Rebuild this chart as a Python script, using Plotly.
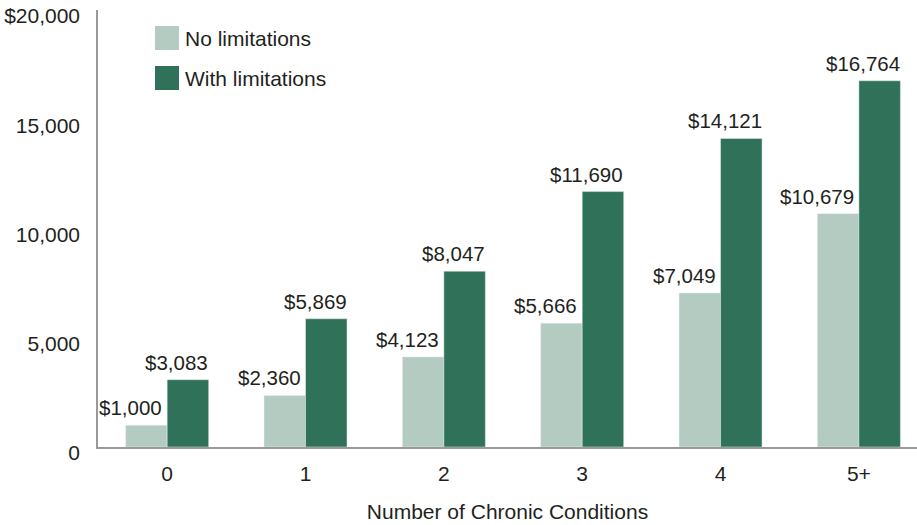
import plotly.graph_objects as go

categories = ['0', '1', '2', '3', '4', '5+']
no_limitations = [1000, 2360, 4123, 5666, 7049, 10679]
with_limitations = [3083, 5869, 8047, 11690, 14121, 16764]
y_ticks = [0, 5000, 10000, 15000, 20000]
y_tick_labels = ['0', '5,000', '10,000', '15,000', '$20,000']

light = '#b3cbc0'
dark = '#2f7259'
text_color = '#231f20'
font = 'Helvetica Neue, Arial, Liberation Sans, sans-serif'

fig = go.Figure()
fig.add_trace(go.Bar(x=categories, y=no_limitations, name='No limitations',
                     marker_color=light, showlegend=False))
fig.add_trace(go.Bar(x=categories, y=with_limitations, name='With limitations',
                     marker_color=dark, showlegend=False))

# value labels above bars
for cat, v in zip(categories, no_limitations):
    fig.add_annotation(x=cat, y=v, text='${:,}'.format(v), showarrow=False,
                       xanchor='right', yanchor='bottom', xshift=-3, yshift=4,
                       font_size=20.5)
for cat, v in zip(categories, with_limitations):
    fig.add_annotation(x=cat, y=v, text='${:,}'.format(v), showarrow=False,
                       xanchor='right', yanchor='bottom', xshift=43, yshift=4,
                       font_size=20.5)

# legend drawn by hand so the swatches can be large squares
legend_items = [('No limitations', light, 0), ('With limitations', dark, 1)]
for label, color, i in legend_items:
    top = 26 + 40 * i
    fig.add_shape(type='rect', xref='paper', yref='paper',
                  x0=(155 - 98) / 819, x1=(179 - 98) / 819,
                  y0=(447 - top - 24) / 437, y1=(447 - top) / 437,
                  fillcolor=color, line_width=0)
    fig.add_annotation(xref='paper', yref='paper', x=(183 - 98) / 819,
                       y=(447 - top - 12) / 437, text=label, showarrow=False,
                       xanchor='left', yanchor='middle')

fig.update_layout(
    width=917, height=525,
    margin=dict(l=98, r=0, t=10, b=78),
    plot_bgcolor='white', paper_bgcolor='white',
    barmode='group', bargap=0.4, bargroupgap=0,
    font=dict(family=font, size=21, color=text_color),
)
fig.update_xaxes(
    type='category', range=[-0.5, 5.42], automargin=False,
    showline=True, linecolor='#999999', linewidth=1.5,
    showgrid=False, ticks='', ticklabelstandoff=7,
    title=dict(text='Number of Chronic Conditions', standoff=20,
               font=dict(size=21)),
)
fig.update_yaxes(
    range=[0, 20000.5], tickvals=y_ticks, ticktext=y_tick_labels,
    automargin=False, ticklabeloverflow='allow',
    showline=True, linecolor='#999999', linewidth=1.5,
    showgrid=False, zeroline=False, ticks='',
    ticklabelstandoff=12, ticklabelshift=6,
)

# drop the page's default body margin so the figure sits at the window corner
fig.write_html('out.html', config={'displayModeBar': False},
               post_script="document.body.style.margin='0';")
